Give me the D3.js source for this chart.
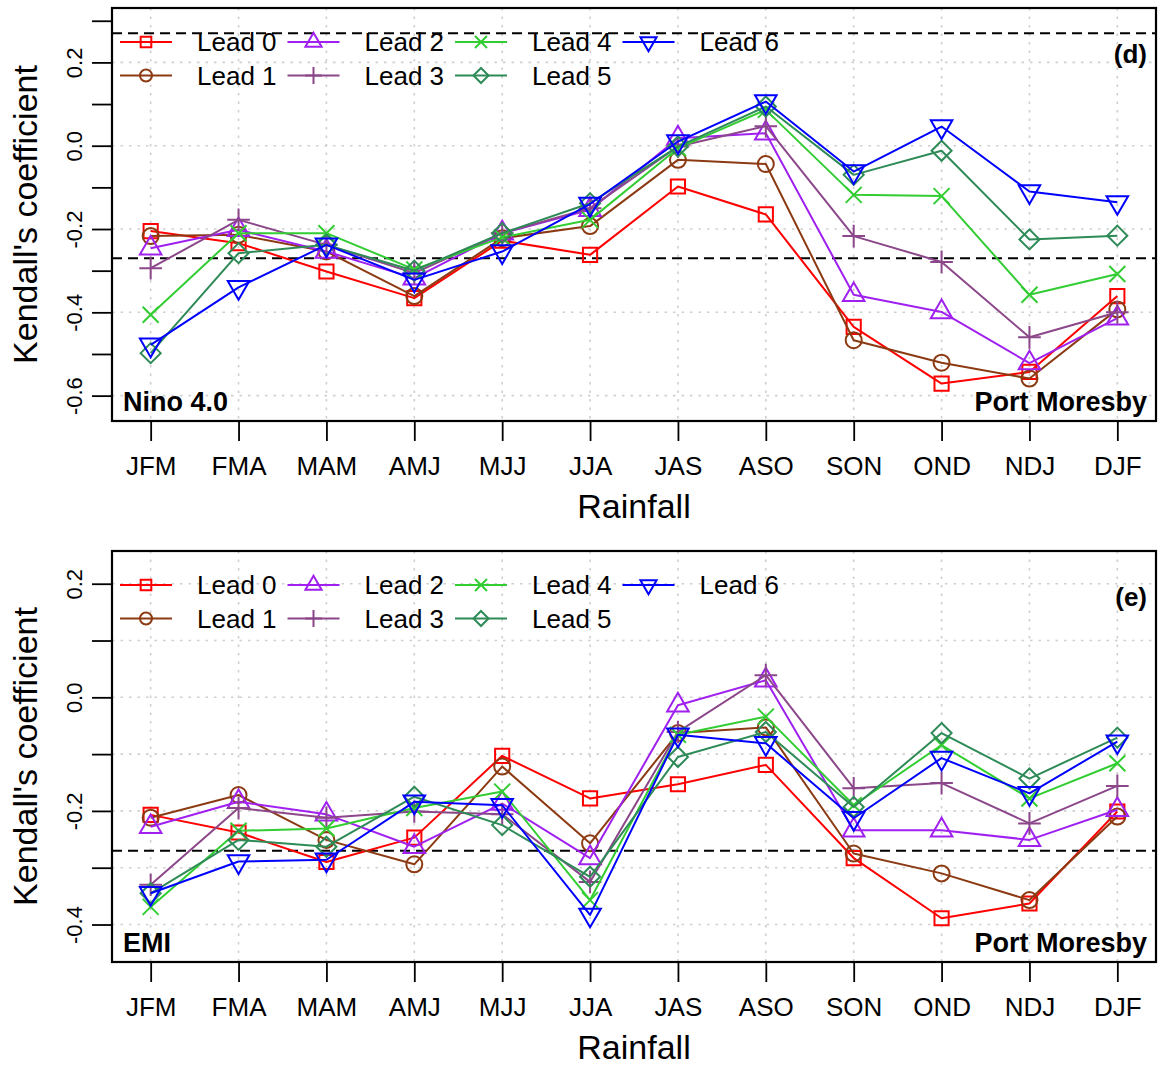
<!DOCTYPE html>
<html>
<head>
<meta charset="utf-8">
<script src="https://cdn.jsdelivr.net/npm/d3@7"></script>
<style>
  html, body { margin: 0; padding: 0; background: #ffffff; }
  svg { display: block; font-family: "Liberation Sans", Arial, Helvetica, sans-serif; }
</style>
</head>
<body>
<svg id="chart" width="1158" height="1068"></svg>
<script>
// ---------------- data ----------------
const months = ["JFM", "FMA", "MAM", "AMJ", "MJJ", "JJA", "JAS", "ASO", "SON", "OND", "NDJ", "DJF"];
const leadNames = ["Lead 0", "Lead 1", "Lead 2", "Lead 3", "Lead 4", "Lead 5", "Lead 6"];

// Kendall's tau, Nino 4.0 vs Port Moresby rainfall
const nino4Lead0 = [-0.205, -0.234, -0.302, -0.366, -0.228, -0.262, -0.098, -0.165, -0.435, -0.571, -0.543, -0.361];
const nino4Lead1 = [-0.217, -0.214, -0.254, -0.361, -0.222, -0.193, -0.034, -0.044, -0.467, -0.521, -0.559, -0.393];
const nino4Lead2 = [-0.246, -0.202, -0.254, -0.318, -0.210, -0.154, 0.018, 0.030, -0.358, -0.399, -0.522, -0.414];
const nino4Lead3 = [-0.294, -0.178, -0.238, -0.306, -0.210, -0.150, -0.002, 0.047, -0.217, -0.279, -0.460, -0.400];
const nino4Lead4 = [-0.406, -0.210, -0.210, -0.297, -0.220, -0.178, -0.006, 0.086, -0.118, -0.121, -0.358, -0.308];
const nino4Lead5 = [-0.498, -0.258, -0.238, -0.300, -0.210, -0.138, -0.002, 0.094, -0.070, -0.012, -0.225, -0.216];
const nino4Lead6 = [-0.478, -0.340, -0.238, -0.322, -0.254, -0.140, 0.010, 0.106, -0.062, 0.046, -0.110, -0.136];

// Kendall's tau, EMI vs Port Moresby rainfall
const emiLead0 = [-0.207, -0.238, -0.290, -0.247, -0.103, -0.178, -0.153, -0.119, -0.283, -0.389, -0.363, -0.201];
const emiLead1 = [-0.212, -0.172, -0.251, -0.294, -0.122, -0.257, -0.063, -0.053, -0.275, -0.310, -0.357, -0.210];
const emiLead2 = [-0.228, -0.184, -0.206, -0.263, -0.187, -0.283, -0.014, 0.030, -0.234, -0.234, -0.251, -0.198];
const emiLead3 = [-0.330, -0.195, -0.212, -0.201, -0.206, -0.325, -0.061, 0.039, -0.160, -0.151, -0.222, -0.156];
const emiLead4 = [-0.369, -0.235, -0.231, -0.195, -0.166, -0.357, -0.066, -0.034, -0.190, -0.084, -0.178, -0.116];
const emiLead5 = [-0.345, -0.251, -0.263, -0.175, -0.225, -0.316, -0.105, -0.061, -0.193, -0.063, -0.143, -0.071];
const emiLead6 = [-0.345, -0.289, -0.286, -0.184, -0.190, -0.383, -0.066, -0.081, -0.213, -0.107, -0.169, -0.078];

// axis ticks
const nino4Ticks = [-0.6, -0.5, -0.4, -0.3, -0.2, -0.1, 0.0, 0.1, 0.2, 0.3];
const nino4TickLabels = [-0.6, -0.4, -0.2, 0.0, 0.2];
const nino4Grid = [-0.6, -0.4, -0.2, 0.0, 0.2];
const emiTicks = [-0.4, -0.3, -0.2, -0.1, 0.0, 0.1, 0.2];
const emiTickLabels = [-0.4, -0.2, 0.0, 0.2];
const emiGrid = [-0.4, -0.3, -0.2, -0.1, 0.0, 0.1, 0.2];

// significance threshold
const significance = [0.27, -0.27];

// ---------------- styles ----------------
const leadColors = ["#FF0000", "#8B3A12", "#A020F0", "#8B4789", "#32CD32", "#2E8B57", "#0000FF"];
const leadShapes = ["square", "circle", "triangle", "plus", "cross", "diamond", "triangleDown"];

const svg = d3.select("#chart");
const plotLeft = 112, plotRight = 1156;

// R-like plotting symbols, R = symbol radius
function symbolPath(shape, R) {
  const p = d3.path();
  if (shape === "square") {
    const h = 0.886 * R;
    p.rect(-h, -h, 2 * h, 2 * h);
  } else if (shape === "circle") {
    p.moveTo(R, 0); p.arc(0, 0, R, 0, 2 * Math.PI); p.closePath();
  } else if (shape === "triangle" || shape === "triangleDown") {
    const s = shape === "triangle" ? 1 : -1;
    const r = 1.5551 * R, xc = 1.3468 * R, yc = 0.7776 * R;
    p.moveTo(0, -s * r); p.lineTo(xc, s * yc); p.lineTo(-xc, s * yc); p.closePath();
  } else if (shape === "plus") {
    const a = 1.4142 * R;
    p.moveTo(-a, 0); p.lineTo(a, 0); p.moveTo(0, -a); p.lineTo(0, a);
  } else if (shape === "cross") {
    const a = R;
    p.moveTo(-a, -a); p.lineTo(a, a); p.moveTo(-a, a); p.lineTo(a, -a);
  } else if (shape === "diamond") {
    const a = 1.2533 * R;
    p.moveTo(0, -a); p.lineTo(a, 0); p.lineTo(0, a); p.lineTo(-a, 0); p.closePath();
  }
  return p.toString();
}

function fmtTick(v) {
  const s = Math.abs(v) < 1e-9 ? "0.0" : v.toFixed(1);
  return s;
}

function drawPanel(cfg) {
  const g = svg.append("g");
  const x = d3.scalePoint().domain(months).range([plotLeft, plotRight]).padding(0.44);
  const y = d3.scaleLinear().domain(cfg.yDomain).range([cfg.bottom, cfg.top]);

  // dotted grid
  g.append("g").selectAll("line").data(months).join("line")
    .attr("x1", d => x(d)).attr("x2", d => x(d))
    .attr("y1", cfg.top).attr("y2", cfg.bottom)
    .attr("stroke", "#cfcfcf").attr("stroke-width", 1.6).attr("stroke-dasharray", "2.5,6");
  g.append("g").selectAll("line").data(cfg.grid).join("line")
    .attr("x1", plotLeft).attr("x2", plotRight)
    .attr("y1", d => y(d)).attr("y2", d => y(d))
    .attr("stroke", "#cfcfcf").attr("stroke-width", 1.6).attr("stroke-dasharray", "2.5,6");

  // significance lines
  const [lo, hi] = cfg.yDomain;
  g.append("g").selectAll("line").data(significance.filter(v => v > lo && v < hi)).join("line")
    .attr("x1", plotLeft).attr("x2", plotRight)
    .attr("y1", d => y(d)).attr("y2", d => y(d))
    .attr("stroke", "#000").attr("stroke-width", 2).attr("stroke-dasharray", "10,6");

  // series
  const line = d3.line().x((d, i) => x(months[i])).y(d => y(d));
  cfg.series.forEach((vals, k) => {
    const sg = g.append("g");
    sg.append("path").datum(vals).attr("d", line)
      .attr("fill", "none").attr("stroke", leadColors[k]).attr("stroke-width", 2)
      .attr("stroke-linejoin", "round");
    sg.selectAll("path.pt").data(vals).join("path").attr("class", "pt")
      .attr("transform", (d, i) => `translate(${x(months[i])},${y(d)})`)
      .attr("d", symbolPath(leadShapes[k], 8))
      .attr("fill", "none").attr("stroke", leadColors[k]).attr("stroke-width", 2);
  });

  // axes
  const xAxis = g.append("g").attr("transform", `translate(0,${cfg.bottom})`)
    .call(d3.axisBottom(x).tickSize(20).tickSizeOuter(0));
  xAxis.select(".domain").remove();
  xAxis.selectAll(".tick line").attr("stroke", "#000").attr("stroke-width", 1.8);
  xAxis.selectAll(".tick text").attr("y", 54).attr("dy", null)
    .attr("fill", "#000").style("font-size", "26px").style("font-family", "Liberation Sans, Arial, sans-serif");

  const yAxis = g.append("g").attr("transform", `translate(${plotLeft},0)`)
    .call(d3.axisLeft(y).tickValues(cfg.ticks).tickSize(20).tickSizeOuter(0)
      .tickFormat(d => cfg.tickLabels.some(t => Math.abs(t - d) < 1e-9) ? fmtTick(d) : ""));
  yAxis.select(".domain").remove();
  yAxis.selectAll(".tick line").attr("stroke", "#000").attr("stroke-width", 1.8);
  yAxis.selectAll(".tick text")
    .attr("x", 0).attr("y", -30).attr("dy", null)
    .attr("transform", "rotate(-90)")
    .attr("text-anchor", "middle")
    .attr("fill", "#000").style("font-size", "22px").style("font-family", "Liberation Sans, Arial, sans-serif");

  // frame
  g.append("rect").attr("x", plotLeft).attr("y", cfg.top)
    .attr("width", plotRight - plotLeft).attr("height", cfg.bottom - cfg.top)
    .attr("fill", "none").attr("stroke", "#000").attr("stroke-width", 2.2);

  // axis titles
  g.append("text")
    .attr("transform", `translate(37,${(cfg.top + cfg.bottom) / 2}) rotate(-90)`)
    .attr("text-anchor", "middle").style("font-size", "34px").attr("fill", "#000")
    .text("Kendall's coefficient");
  g.append("text")
    .attr("x", (plotLeft + plotRight) / 2).attr("y", cfg.bottom + 97)
    .attr("text-anchor", "middle").style("font-size", "34px").attr("fill", "#000")
    .text("Rainfall");

  // legend (two rows, filled column-wise)
  const leg = g.append("g");
  leadNames.forEach((name, k) => {
    const col = Math.floor(k / 2), row = k % 2;
    const x0 = 120 + col * 167.5;
    const yy = cfg.top + 34 + row * 33.5;
    leg.append("line").attr("x1", x0).attr("x2", x0 + 52).attr("y1", yy).attr("y2", yy)
      .attr("stroke", leadColors[k]).attr("stroke-width", 2);
    leg.append("path").attr("transform", `translate(${x0 + 26},${yy})`)
      .attr("d", symbolPath(leadShapes[k], 6))
      .attr("fill", "none").attr("stroke", leadColors[k]).attr("stroke-width", 2);
    leg.append("text").attr("x", x0 + 77).attr("y", yy).attr("dy", "0.36em")
      .style("font-size", "26px").attr("fill", "#000").text(name);
  });

  // panel annotations
  g.append("text").attr("x", 1147).attr("y", cfg.top + 55).attr("text-anchor", "end")
    .style("font-size", "26px").style("font-weight", "bold").text(cfg.tag);
  g.append("text").attr("x", 123).attr("y", cfg.bottom - 10)
    .style("font-size", "27px").style("font-weight", "bold").text(cfg.index);
  g.append("text").attr("x", 1147).attr("y", cfg.bottom - 10).attr("text-anchor", "end")
    .style("font-size", "27px").style("font-weight", "bold").text("Port Moresby");
}

drawPanel({
  top: 8, bottom: 421, yDomain: [-0.6609, 0.3306],
  ticks: nino4Ticks, tickLabels: nino4TickLabels, grid: nino4Grid,
  series: [nino4Lead0, nino4Lead1, nino4Lead2, nino4Lead3, nino4Lead4, nino4Lead5, nino4Lead6],
  tag: "(d)", index: "Nino 4.0"
});

drawPanel({
  top: 551, bottom: 962, yDomain: [-0.4660, 0.2576],
  ticks: emiTicks, tickLabels: emiTickLabels, grid: emiGrid,
  series: [emiLead0, emiLead1, emiLead2, emiLead3, emiLead4, emiLead5, emiLead6],
  tag: "(e)", index: "EMI"
});
</script>
</body>
</html>
